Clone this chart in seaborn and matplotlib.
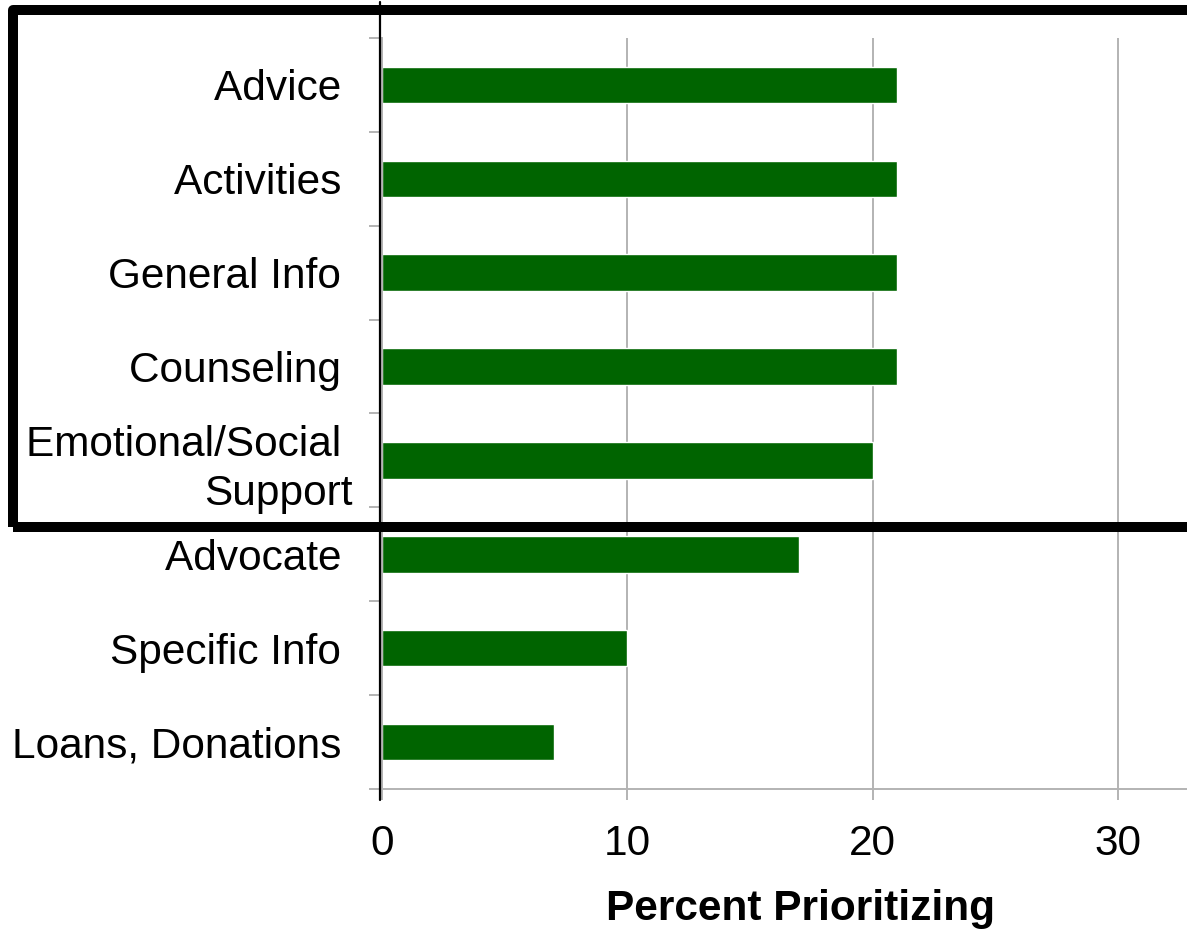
import numpy as np
import pandas as pd
import matplotlib
matplotlib.use("Agg")
import matplotlib.pyplot as plt
from matplotlib.patches import Rectangle
from matplotlib.lines import Line2D
import seaborn as sns

# Support types and share of respondents prioritizing each
categories = ["Advice ", "Activities ", "General Info ", "Counseling ",
              "Emotional/Social \nSupport", "Advocate ", "Specific Info ",
              "Loans, Donations "]
percent = [21, 21, 21, 21, 20, 17, 10, 7]
x_ticks = [0, 10, 20, 30]
x_label = "Percent Prioritizing"

sns.set_style("white")
plt.rcParams["font.family"] = ["Liberation Sans", "DejaVu Sans"]
plt.rcParams["text.color"] = "black"
plt.rcParams["xtick.labelcolor"] = "black"
plt.rcParams["ytick.labelcolor"] = "black"
plt.rcParams["axes.labelcolor"] = "black"

df = pd.DataFrame({"category": categories, "percent": percent})

fig = plt.figure(figsize=(11.87, 9.31), dpi=100)
ax = fig.add_axes([382 / 1187, 1 - 789 / 931, (1220 - 382) / 1187, (789 - 38) / 931])

sns.barplot(data=df, x="percent", y="category", orient="h", color="#006400",
            width=0.39, saturation=1, ax=ax)

grid_c = "#b3b3b3"
fs = 30.5
ax.set_xlim(0, (1220 - 382) / 24.54)
ax.set_xticks(x_ticks)
ax.set_xticklabels([str(t) for t in x_ticks], fontsize=fs, color="black")
ax.xaxis.grid(True, color=grid_c, linewidth=1.4)
ax.set_axisbelow(True)
ax.tick_params(axis="x", length=8, width=1.4, color=grid_c, pad=17, direction="out",
               bottom=True, labelcolor="black")

# Ticks between categories, labels at category centres
n = len(categories)
ax.set_ylim(n - 0.5, -0.5)
ax.set_yticks(np.arange(-0.5, n, 1.0))
ax.set_yticklabels([])
ax.set_yticks(np.arange(n), minor=True)
ax.set_yticklabels(categories, minor=True, fontsize=fs, color="black", linespacing=1.3)
ax.tick_params(axis="y", which="major", length=9.5, width=1.4, color=grid_c, left=True)
ax.tick_params(axis="y", which="minor", length=0, pad=21, labelcolor="black")
ax.set_ylabel("")

ax.set_xlabel(x_label, fontsize=fs, fontweight="bold", labelpad=18, color="black")

for side in ["top", "right"]:
    ax.spines[side].set_visible(False)
for side in ["left", "bottom"]:
    ax.spines[side].set_color(grid_c)
    ax.spines[side].set_linewidth(1.4)

# Highlight box around the top five categories
W, H = 1187, 931
box = Rectangle((12.5 / W, 1 - 527 / H), 1.05 - 12.5 / W, (527 - 10) / H,
                transform=fig.transFigure, fill=False, edgecolor="black",
                linewidth=7.2, joinstyle="round", clip_on=False)
fig.patches.append(box)
fig.lines.append(Line2D([379.5 / W, 379.5 / W], [1 - 2 / H, 1 - 800 / H],
                        transform=fig.transFigure, color="black", linewidth=1.6))

fig.savefig("out.png", dpi=100)
